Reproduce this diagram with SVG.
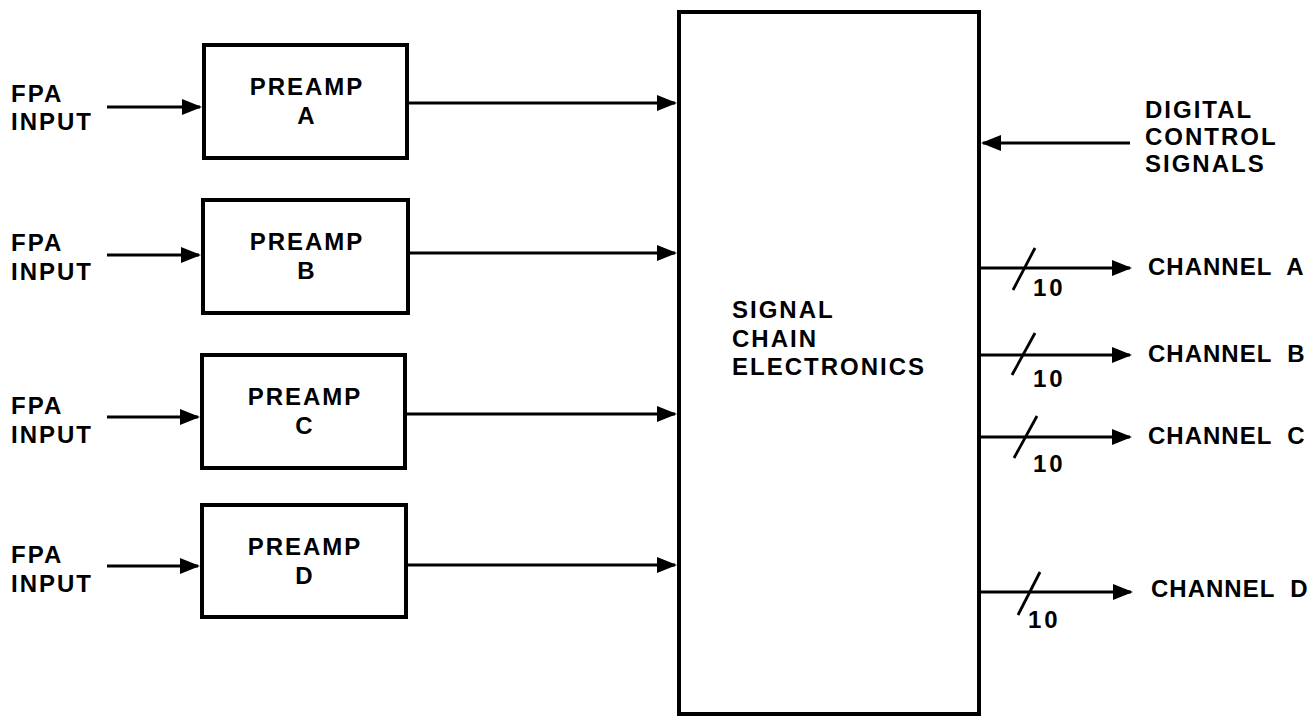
<svg xmlns="http://www.w3.org/2000/svg" width="1316" height="717" viewBox="0 0 1316 717">
<defs>
<marker id="ah" markerUnits="userSpaceOnUse" markerWidth="21" markerHeight="17" refX="18" refY="8" orient="auto">
<path d="M0,0 L20,8 L0,16 z" fill="#000"/>
</marker>
<style>
.box{fill:#fff;stroke:#000;stroke-width:4}
.ln{fill:none;stroke:#000;stroke-width:2.8;marker-end:url(#ah)}
.sl{fill:none;stroke:#000;stroke-width:2.8}
text{font-family:"Liberation Sans",Arial,sans-serif;font-weight:bold;font-size:24px;fill:#000;letter-spacing:2px}
.c{text-anchor:middle}
.ch{letter-spacing:1px}
.n{letter-spacing:3px}
</style>
</defs>
<rect width="1316" height="717" fill="#fff"/>

<g id="sce">
<rect class="box" x="679" y="12" width="300" height="702"/>
<text x="732" y="318">SIGNAL</text>
<text x="732" y="347">CHAIN</text>
<text x="732" y="375">ELECTRONICS</text>
</g>

<g id="preampA">
<rect class="box" x="204" y="45" width="203" height="113"/>
<text class="c" x="307" y="95">PREAMP</text>
<text class="c" x="307" y="124">A</text>
</g>
<g id="preampB">
<rect class="box" x="203" y="200" width="205" height="113"/>
<text class="c" x="307" y="250">PREAMP</text>
<text class="c" x="307" y="279">B</text>
</g>
<g id="preampC">
<rect class="box" x="202" y="355" width="203" height="113"/>
<text class="c" x="305" y="405">PREAMP</text>
<text class="c" x="305" y="434">C</text>
</g>
<g id="preampD">
<rect class="box" x="202" y="505" width="204" height="112"/>
<text class="c" x="305" y="555">PREAMP</text>
<text class="c" x="305" y="584">D</text>
</g>

<g id="inA"><text x="11" y="102">FPA</text><text x="11" y="130">INPUT</text></g>
<g id="inB"><text x="11" y="251">FPA</text><text x="11" y="280">INPUT</text></g>
<g id="inC"><text x="11" y="414">FPA</text><text x="11" y="443">INPUT</text></g>
<g id="inD"><text x="11" y="563">FPA</text><text x="11" y="592">INPUT</text></g>

<g id="digital">
<text x="1145" y="118">DIGITAL</text>
<text x="1145" y="145">CONTROL</text>
<text x="1145" y="172">SIGNALS</text>
</g>

<g id="chA"><text class="ch" x="1148" y="275" xml:space="preserve">CHANNEL  A</text><text class="n" x="1033" y="296">10</text></g>
<g id="chB"><text class="ch" x="1148" y="362" xml:space="preserve">CHANNEL  B</text><text class="n" x="1033" y="387">10</text></g>
<g id="chC"><text class="ch" x="1148" y="444" xml:space="preserve">CHANNEL  C</text><text class="n" x="1033" y="472">10</text></g>
<g id="chD"><text class="ch" x="1151" y="597" xml:space="preserve">CHANNEL  D</text><text class="n" x="1028" y="628">10</text></g>

<g id="connectors">
<line class="ln" x1="107" y1="107" x2="200" y2="107"/>
<line class="ln" x1="107" y1="255" x2="199" y2="255"/>
<line class="ln" x1="107" y1="417" x2="198" y2="417"/>
<line class="ln" x1="107" y1="566" x2="198" y2="566"/>

<line class="ln" x1="409" y1="103" x2="675" y2="103"/>
<line class="ln" x1="410" y1="253" x2="675" y2="253"/>
<line class="ln" x1="407" y1="414" x2="675" y2="414"/>
<line class="ln" x1="408" y1="565" x2="675" y2="565"/>

<line class="ln" x1="1130" y1="143" x2="983" y2="143"/>

<line class="ln" x1="981" y1="268" x2="1130" y2="268"/>
<line class="ln" x1="981" y1="355" x2="1130" y2="355"/>
<line class="ln" x1="981" y1="437" x2="1130" y2="437"/>
<line class="ln" x1="981" y1="592" x2="1131" y2="592"/>

<line class="sl" x1="1013" y1="290" x2="1035" y2="248"/>
<line class="sl" x1="1012" y1="375" x2="1035" y2="333"/>
<line class="sl" x1="1014" y1="458" x2="1037" y2="416"/>
<line class="sl" x1="1018" y1="615" x2="1040" y2="572"/>
</g>
</svg>
